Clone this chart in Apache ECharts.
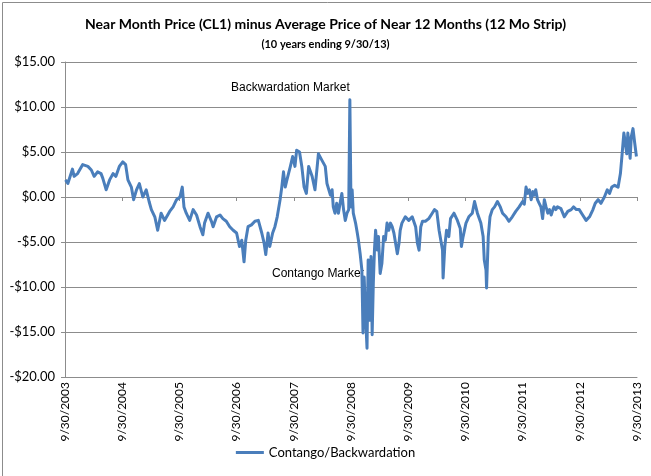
<!DOCTYPE html>
<html>
<head>
<meta charset="utf-8">
<script src="https://cdn.jsdelivr.net/npm/echarts@6/dist/echarts.min.js"></script>
<style>
  html, body { margin: 0; padding: 0; background: #fff; }
  #chart { width: 651px; height: 476px; }
</style>
</head>
<body>
<div id="chart"></div>
<script>
// years after 9/30/2003
var xYears = [0.01, 0.05, 0.13, 0.16, 0.22, 0.31, 0.40, 0.46, 0.51, 0.57, 0.63, 0.66, 0.72, 0.78, 0.84, 0.89, 0.95,
    1.01, 1.06, 1.10, 1.16, 1.20, 1.25, 1.30, 1.36, 1.42, 1.47, 1.51, 1.57, 1.62, 1.68, 1.74, 1.83, 1.89, 1.95,
    2.01, 2.05, 2.08, 2.12, 2.18, 2.24, 2.30, 2.36, 2.41, 2.44, 2.50, 2.56, 2.59, 2.65, 2.71, 2.76, 2.82, 2.88, 2.94,
    3.00, 3.05, 3.09, 3.13, 3.16, 3.20, 3.26, 3.32, 3.38, 3.44, 3.48, 3.51, 3.55, 3.58, 3.63, 3.67, 3.71, 3.76, 3.79,
    3.82, 3.85, 3.88, 3.94, 3.98, 4.02, 4.05, 4.10, 4.14, 4.18, 4.22, 4.26, 4.32, 4.37, 4.43, 4.49, 4.55, 4.58, 4.64,
    4.67, 4.69, 4.72, 4.75, 4.78, 4.82, 4.84, 4.87, 4.90, 4.93, 4.96, 4.98, 5.00, 5.02, 5.04, 5.08, 5.11, 5.13, 5.16,
    5.19, 5.21, 5.23, 5.26, 5.28, 5.30, 5.33, 5.35, 5.37, 5.39, 5.41, 5.43, 5.46, 5.48, 5.51, 5.54, 5.57, 5.60, 5.63,
    5.66, 5.69, 5.72, 5.75, 5.81, 5.84, 5.86, 5.89, 5.95, 6.01, 6.07, 6.13, 6.16, 6.19, 6.22, 6.25, 6.30, 6.36, 6.42,
    6.46, 6.50, 6.54, 6.57, 6.60, 6.61, 6.64, 6.67, 6.71, 6.74, 6.80, 6.86, 6.91, 6.93, 6.96, 7.01, 7.06, 7.12, 7.16,
    7.21, 7.27, 7.31, 7.33, 7.36, 7.37, 7.40, 7.43, 7.47, 7.51, 7.56, 7.61, 7.65, 7.71, 7.76, 7.82, 7.88, 7.94, 7.97,
    8.00, 8.03, 8.06, 8.09, 8.12, 8.15, 8.18, 8.20, 8.23, 8.26, 8.29, 8.32, 8.35, 8.38, 8.41, 8.44, 8.47, 8.50, 8.53,
    8.55, 8.58, 8.61, 8.67, 8.73, 8.79, 8.85, 8.89, 8.94, 8.99, 9.05, 9.11, 9.17, 9.23, 9.27, 9.32, 9.37, 9.43, 9.48,
    9.52, 9.56, 9.61, 9.67, 9.71, 9.74, 9.77, 9.79, 9.82, 9.84, 9.88, 9.90, 9.93, 9.96, 9.99]
// near month minus 12 month strip, $/bbl
var spread = [1.9, 1.5, 3.1, 2.3, 2.6, 3.6, 3.4, 3.0, 2.3, 2.8, 2.6, 2.1, 0.8, 1.9, 2.6, 2.3, 3.4,
    3.9, 3.6, 1.9, 1.1, -0.3, 0.8, 1.5, 0.0, 0.8, -0.5, -1.4, -2.2, -3.7, -1.8, -2.6, -1.6, -1.1, -0.3,
    0.0, 1.1, -1.1, -1.8, -2.6, -1.4, -2.0, -3.3, -4.2, -2.9, -1.8, -2.7, -3.3, -2.2, -2.0, -2.4, -2.7, -3.3, -3.7,
    -4.0, -5.5, -4.8, -7.2, -4.8, -3.3, -3.1, -2.7, -2.6, -4.0, -5.1, -6.4, -4.0, -5.5, -4.0, -3.3, -2.2, -0.3, 1.1,
    2.8, 1.1, 1.9, 3.4, 4.5, 3.4, 5.2, 5.0, 3.4, 1.1, 0.4, 3.4, 2.3, 0.8, 4.8, 4.1, 3.4, 1.5, 0.2,
    0.8, -1.1, -1.8, -0.7, -1.8, -0.3, 0.4, -1.4, -2.6, -1.8, -1.4, 10.8, -1.1, 0.8, -1.8, -2.9, -4.0, -4.8, -6.3,
    -8.1, -15.1, -8.9, -14.0, -16.8, -7.0, -13.7, -6.6, -15.3, -9.6, -5.9, -3.7, -5.9, -4.4, -8.5, -7.4, -4.4, -4.8, -2.9,
    -3.7, -2.9, -3.3, -4.0, -6.3, -5.1, -3.7, -2.9, -2.2, -2.6, -2.2, -3.3, -5.1, -5.9, -3.3, -2.7, -2.7, -2.4, -1.8,
    -1.4, -1.6, -3.7, -4.8, -5.9, -9.0, -5.5, -3.7, -4.4, -2.4, -1.8, -2.6, -3.5, -5.5, -4.4, -2.9, -2.2, -1.8, -0.5,
    -1.8, -2.9, -4.4, -7.0, -8.1, -10.1, -4.4, -2.2, -1.4, -1.1, -0.5, -1.1, -1.8, -2.2, -2.7, -2.2, -1.6, -1.1, -1.2,
    -0.5, -0.8, 1.1, 0.4, 0.8, -0.3, 0.6, 0.2, 0.8, -0.3, -0.7, -1.1, -2.4, -0.3, -1.1, -1.8, -1.4, -2.0, -1.4,
    -1.1, -1.4, -1.1, -1.3, -2.2, -1.6, -1.4, -1.1, -1.4, -1.4, -2.0, -2.6, -2.2, -1.4, -0.7, -0.3, -0.7, 0.0, 0.8,
    0.4, 1.1, 1.3, 1.1, 2.6, 4.8, 7.1, 6.3, 4.8, 7.1, 4.3, 6.7, 7.6, 6.0, 4.5]
var startYear = 2003
var seriesName = 'Contango/Backwardation'

var myChart = echarts.init(document.getElementById('chart'))
var lineData = xYears.map(function (t, i) {
    return [t, spread[i]]
})
var axisGrey = '#8c8c8c'
var font = 'Lato, "Open Sans", sans-serif'

function money(v) {
    return (v < 0 ? '-$' : '$') + Math.abs(v).toFixed(2)
}

var option = {
    backgroundColor: '#fff',
    animation: false,
    title: [{
        text: 'Near Month Price (CL1) minus Average Price of Near 12 Months (12 Mo Strip)',
        left: 'center',
        top: 12,
        textStyle: { fontFamily: font, fontSize: 14, fontWeight: 'bold', color: '#000' }
    }, {
        text: '(10 years ending 9/30/13)',
        left: 'center',
        top: 34,
        textStyle: { fontFamily: font, fontSize: 11, fontWeight: 'bold', color: '#000' }
    }],
    legend: {
        bottom: 12,
        left: 'center',
        icon: 'rect',
        itemWidth: 28,
        itemHeight: 3,
        itemGap: 4,
        textStyle: { fontFamily: font, fontSize: 13, color: '#000' },
        data: [seriesName]
    },
    grid: { left: 65, right: 14, top: 62, bottom: 99 },
    xAxis: [{
        type: 'value',
        min: 0,
        max: 10,
        interval: 1,
        axisLine: { onZero: false, lineStyle: { color: axisGrey, width: 1 } },
        axisTick: { show: false },
        splitLine: { show: false },
        axisLabel: {
            rotate: 90,
            margin: 5,
            fontFamily: font,
            fontSize: 12,
            color: '#000',
            formatter: function (v) { return '9/30/' + (startYear + v) }
        }
    }, {
        // short ticks hanging under the $0 line
        type: 'value',
        min: 0,
        max: 10,
        interval: 1,
        position: 'bottom',
        offset: -180,
        axisLine: { show: true, onZero: false, lineStyle: { color: axisGrey, width: 1 } },
        axisTick: { show: true, inside: false, length: 4, lineStyle: { color: axisGrey } },
        axisLabel: { show: false },
        splitLine: { show: false }
    }],
    yAxis: {
        type: 'value',
        min: -20,
        max: 15,
        interval: 5,
        axisLine: { show: true, lineStyle: { color: axisGrey, width: 1 } },
        axisTick: { show: true, length: 4, lineStyle: { color: axisGrey } },
        splitLine: { lineStyle: { color: axisGrey, width: 1 } },
        axisLabel: {
            margin: 10,
            fontFamily: font,
            fontSize: 13,
            color: '#000',
            formatter: money
        }
    },
    graphic: [
        {
            type: 'rect',
            left: 0, top: 0,
            shape: { width: 650, height: 475 },
            style: { fill: 'none', stroke: '#8c8c8c', lineWidth: 1 },
            silent: true
        },
        {
            type: 'text',
            left: 231, top: 82,
            style: { text: 'Backwardation Market', font: '12px "Liberation Sans", Arial, sans-serif', fill: '#000' }
        },
        {
            type: 'text',
            left: 272, top: 268,
            style: { text: 'Contango Market', font: '12px "Liberation Sans", Arial, sans-serif', fill: '#000' }
        }
    ],
    series: [{
        name: seriesName,
        type: 'line',
        xAxisIndex: 0,
        showSymbol: false,
        symbol: 'none',
        lineStyle: { color: '#4a7ebb', width: 3, join: 'round' },
        itemStyle: { color: '#4a7ebb' },
        data: lineData
    }]
}
myChart.setOption(option)
</script>
</body>
</html>
